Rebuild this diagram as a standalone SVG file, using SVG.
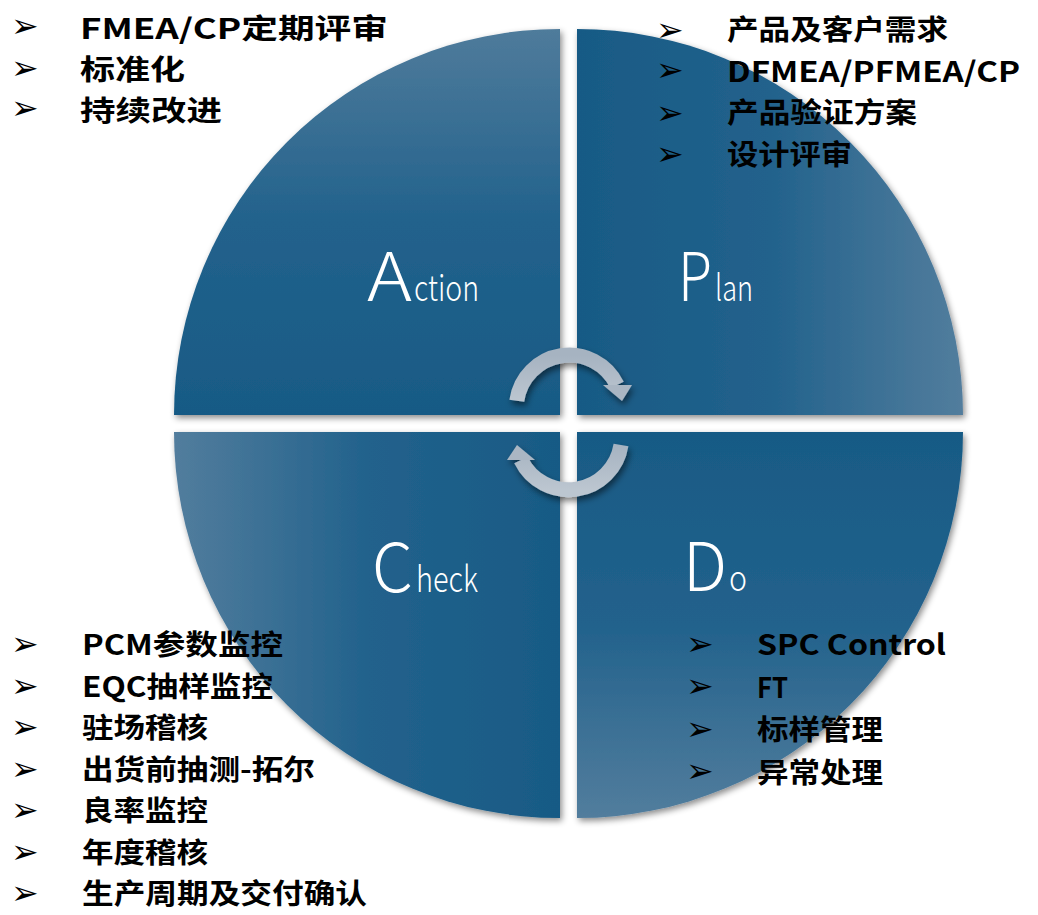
<svg xmlns="http://www.w3.org/2000/svg" width="1038" height="915" viewBox="0 0 1038 915">
<style>
.lst{font-family:"Noto Sans CJK SC","Liberation Sans",sans-serif;font-weight:700;font-size:28px;fill:#000}
.bul{font-family:"DejaVu Sans",sans-serif;font-size:33px;fill:#000}
.lbl{font-family:"Noto Sans CJK SC","Noto Sans",sans-serif;font-weight:300;fill:#fff}
.big{font-size:67px}
.sm{font-size:36px}
.quad{filter:url(#sh)}
</style>
<defs>
<filter id="sh" x="-10%" y="-10%" width="120%" height="120%">
<feDropShadow dx="2" dy="3" stdDeviation="3" flood-color="#000" flood-opacity="0.45"/>
</filter>
<filter id="ash" x="-20%" y="-20%" width="140%" height="140%">
<feDropShadow dx="2" dy="4" stdDeviation="3" flood-color="#000" flood-opacity="0.5"/>
</filter>
<linearGradient id="gA" x1="0" y1="0" x2="0" y2="1">
<stop offset="0" stop-color="#4f7b9b"/><stop offset="0.5" stop-color="#22628c"/><stop offset="1" stop-color="#185a85"/>
</linearGradient>
<linearGradient id="gP" x1="0" y1="0" x2="1" y2="0">
<stop offset="0" stop-color="#185a85"/><stop offset="0.5" stop-color="#22628c"/><stop offset="1" stop-color="#527d9d"/>
</linearGradient>
<linearGradient id="gD" x1="0" y1="0" x2="0" y2="1">
<stop offset="0" stop-color="#185a85"/><stop offset="0.5" stop-color="#22628c"/><stop offset="1" stop-color="#527d9d"/>
</linearGradient>
<linearGradient id="gC" x1="0" y1="0" x2="1" y2="0">
<stop offset="0" stop-color="#527d9d"/><stop offset="0.5" stop-color="#22628c"/><stop offset="1" stop-color="#185a85"/>
</linearGradient>
<linearGradient id="gArr" x1="0" y1="0" x2="0" y2="1">
<stop offset="0" stop-color="#a6b3c1"/><stop offset="1" stop-color="#bcc6d0"/>
</linearGradient>
</defs>
<rect width="1038" height="915" fill="#fff"/>

<g id="action">
<path class="quad" d="M560 415 H174 A386 386 0 0 1 560 29 Z" fill="url(#gA)"/>
<text class="lbl" x="367" y="301"><tspan class="big" textLength="45" lengthAdjust="spacingAndGlyphs">A</tspan><tspan class="sm" x="414" textLength="65" lengthAdjust="spacingAndGlyphs">ction</tspan></text>
</g>
<g id="plan">
<path class="quad" d="M577 415 V29 A386 386 0 0 1 963 415 Z" fill="url(#gP)"/>
<text class="lbl" x="678" y="301"><tspan class="big" textLength="34" lengthAdjust="spacingAndGlyphs">P</tspan><tspan class="sm" x="715" textLength="38" lengthAdjust="spacingAndGlyphs">lan</tspan></text>
</g>
<g id="do">
<path class="quad" d="M577 432 H963 A386 386 0 0 1 577 818 Z" fill="url(#gD)"/>
<text class="lbl" x="683" y="591"><tspan class="big" textLength="44" lengthAdjust="spacingAndGlyphs">D</tspan><tspan class="sm" x="729" textLength="18" lengthAdjust="spacingAndGlyphs">o</tspan></text>
</g>
<g id="check">
<path class="quad" d="M560 432 V818 A386 386 0 0 1 174 432 Z" fill="url(#gC)"/>
<text class="lbl" x="372" y="592"><tspan class="big" textLength="41" lengthAdjust="spacingAndGlyphs">C</tspan><tspan class="sm" x="416" textLength="62" lengthAdjust="spacingAndGlyphs">heck</tspan></text>
</g>

<g id="connectors" filter="url(#ash)">
<path d="M516.8 400.8 A53 53 0 0 1 617 385" fill="none" stroke="url(#gArr)" stroke-width="15"/>
<polygon points="603,385 632,385 622,401" fill="#aab6c3"/>
<path d="M621 445 A53 53 0 0 1 521 460" fill="none" stroke="url(#gArr)" stroke-width="15"/>
<polygon points="507,460 535,460 517,445" fill="#aab6c3"/>
</g>

<g id="list-action">
<text class="bul" x="11" y="37">➢</text>
<text class="bul" x="11" y="79">➢</text>
<text class="bul" x="11" y="119">➢</text>
<text class="lst" x="80" y="39" textLength="308" lengthAdjust="spacingAndGlyphs">FMEA/CP定期评审</text>
<text class="lst" x="80" y="80" textLength="105" lengthAdjust="spacingAndGlyphs">标准化</text>
<text class="lst" x="80" y="121" textLength="142" lengthAdjust="spacingAndGlyphs">持续改进</text>
</g>
<g id="list-plan">
<text class="bul" x="656" y="41">➢</text>
<text class="bul" x="656" y="81">➢</text>
<text class="bul" x="656" y="124">➢</text>
<text class="bul" x="656" y="165">➢</text>
<text class="lst" x="727" y="40" textLength="221" lengthAdjust="spacingAndGlyphs">产品及客户需求</text>
<text class="lst" x="727" y="82" textLength="293" lengthAdjust="spacingAndGlyphs">DFMEA/PFMEA/CP</text>
<text class="lst" x="727" y="123" textLength="190" lengthAdjust="spacingAndGlyphs">产品验证方案</text>
<text class="lst" x="727" y="165" textLength="125" lengthAdjust="spacingAndGlyphs">设计评审</text>
</g>
<g id="list-check">
<text class="bul" x="11" y="655">➢</text>
<text class="bul" x="11" y="696.5">➢</text>
<text class="bul" x="11" y="738">➢</text>
<text class="bul" x="11" y="779.5">➢</text>
<text class="bul" x="11" y="821">➢</text>
<text class="bul" x="11" y="862.5">➢</text>
<text class="bul" x="11" y="904">➢</text>
<text class="lst" x="82" y="655" textLength="201" lengthAdjust="spacingAndGlyphs">PCM参数监控</text>
<text class="lst" x="82" y="696.5" textLength="191" lengthAdjust="spacingAndGlyphs">EQC抽样监控</text>
<text class="lst" x="82" y="738" textLength="126" lengthAdjust="spacingAndGlyphs">驻场稽核</text>
<text class="lst" x="82" y="779.5" textLength="233" lengthAdjust="spacingAndGlyphs">出货前抽测-拓尔</text>
<text class="lst" x="82" y="821" textLength="126" lengthAdjust="spacingAndGlyphs">良率监控</text>
<text class="lst" x="82" y="862.5" textLength="126" lengthAdjust="spacingAndGlyphs">年度稽核</text>
<text class="lst" x="82" y="904" textLength="285" lengthAdjust="spacingAndGlyphs">生产周期及交付确认</text>
</g>
<g id="list-do">
<text class="bul" x="686" y="655">➢</text>
<text class="bul" x="686" y="697">➢</text>
<text class="bul" x="686" y="740">➢</text>
<text class="bul" x="686" y="782">➢</text>
<text class="lst" x="757" y="655" textLength="189" lengthAdjust="spacingAndGlyphs">SPC Control</text>
<text class="lst" x="757" y="698" textLength="31" lengthAdjust="spacingAndGlyphs">FT</text>
<text class="lst" x="757" y="740" textLength="126" lengthAdjust="spacingAndGlyphs">标样管理</text>
<text class="lst" x="757" y="783" textLength="126" lengthAdjust="spacingAndGlyphs">异常处理</text>
</g>
</svg>
